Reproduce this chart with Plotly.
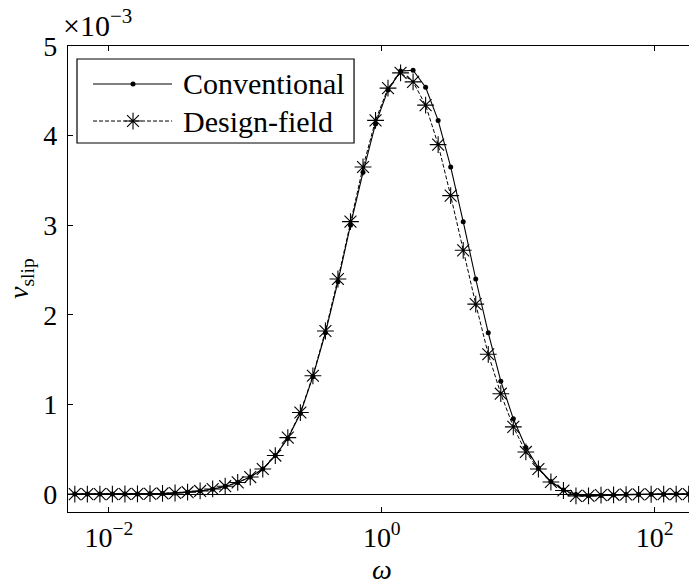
import plotly.graph_objects as go

# ---- data ----
omega = [0.005623, 0.006948, 0.008585, 0.01060, 0.01310, 0.01619, 0.02000, 0.02471,
         0.03053, 0.03772, 0.04661, 0.05759, 0.07115, 0.08790, 0.1086, 0.1342,
         0.1658, 0.2048, 0.2531, 0.3127, 0.3863, 0.4772, 0.5896, 0.7285, 0.9000,
         1.111, 1.373, 1.696, 2.096, 2.589, 3.199, 3.953, 4.884, 6.034, 7.455,
         9.210, 11.38, 14.06, 17.37, 21.46, 26.51, 32.76, 40.47, 50.00, 61.77,
         76.32, 94.29, 116.5, 143.9, 177.8]

conventional = [0.0, 0.0, 0.0, 0.0, 0.001, 0.002, 0.004, 0.007, 0.012, 0.020,
                0.033, 0.055, 0.085, 0.13, 0.19, 0.28, 0.43, 0.62, 0.90, 1.31,
                1.80, 2.37, 3.00, 3.59, 4.13, 4.51, 4.72, 4.73, 4.54, 4.17,
                3.65, 3.04, 2.40, 1.80, 1.26, 0.84, 0.52, 0.29, 0.14, 0.045,
                -0.005, -0.02, -0.015, -0.01, -0.006, -0.004, -0.002, -0.001, 0.0, 0.0]

design_field = [0.0, 0.0, 0.0, 0.0, 0.001, 0.002, 0.004, 0.007, 0.012, 0.021,
                0.035, 0.057, 0.088, 0.13, 0.19, 0.28, 0.43, 0.63, 0.91, 1.32,
                1.82, 2.40, 3.04, 3.65, 4.17, 4.53, 4.70, 4.60, 4.34, 3.90,
                3.33, 2.72, 2.12, 1.56, 1.12, 0.75, 0.47, 0.28, 0.135, 0.04,
                -0.02, -0.02, -0.012, -0.008, -0.005, -0.003, -0.002, -0.001, 0.0, 0.0]

series_names = ["Conventional", "Design-field"]
x_tickvals = [0.01, 1, 100]
x_ticktext = ["10<sup>\u22122</sup>", "10<sup>0</sup>", "10<sup>2</sup>"]
y_tickvals = [0, 1, 2, 3, 4, 5]
y_ticktext = ["0", "1", "2", "3", "4", "5"]

FONT = "Liberation Serif"
FS = 28
FS_LEG = 30

fig = go.Figure()

line_styles = [
    dict(color="black", width=1.1),
    dict(color="black", width=1.0, dash="4px,2px"),
]
marker_styles = [
    dict(symbol="circle", size=5, color="black"),
    dict(symbol="asterisk-open", size=14, color="black",
         line=dict(color="black", width=1.1)),
]

for yvals, name, ls, ms in zip([conventional, design_field], series_names,
                               line_styles, marker_styles):
    fig.add_trace(go.Scatter(x=omega, y=yvals, mode="lines+markers", name=name,
                             line=ls, marker=ms, showlegend=False))

# ---- custom legend (layout positions in paper fractions) ----
LEG_X0, LEG_X1, LEG_Y0, LEG_Y1 = 0.0145, 0.4606, 0.7918, 0.9721
LEG_LINE_X = [0.0403, 0.1675]
LEG_MARK_X = 0.1047
LEG_TEXT_X = 0.1820
LEG_ROWS = [0.9185, 0.8390]

fig.add_shape(type="rect", xref="paper", yref="paper",
              x0=LEG_X0, x1=LEG_X1, y0=LEG_Y0, y1=LEG_Y1,
              line=dict(color="black", width=1.2), fillcolor="white", layer="below")

for row, name, ls, ms in zip(LEG_ROWS, series_names, line_styles, marker_styles):
    fig.add_trace(go.Scatter(x=LEG_LINE_X, y=[row, row], mode="lines",
                             line=ls, xaxis="x2", yaxis="y2",
                             showlegend=False, hoverinfo="skip", cliponaxis=False))
    fig.add_trace(go.Scatter(x=[LEG_MARK_X], y=[row], mode="markers",
                             marker=ms, xaxis="x2", yaxis="y2",
                             showlegend=False, hoverinfo="skip", cliponaxis=False))
    fig.add_annotation(x=LEG_TEXT_X, y=row, xref="paper", yref="paper",
                       text=name, showarrow=False, xanchor="left", yanchor="middle",
                       font=dict(family=FONT, size=FS_LEG, color="black"))

fig.update_layout(
    width=689, height=586,
    margin=dict(l=68, r=0, t=46, b=74),
    paper_bgcolor="white", plot_bgcolor="white",
    font=dict(family=FONT, size=FS, color="black"),
    xaxis=dict(type="log", range=[-2.30, 2.252],
               tickvals=x_tickvals, ticktext=x_ticktext,
               ticks="inside", ticklen=5, tickwidth=1, tickcolor="black",
               showline=True, linecolor="black", linewidth=1.2, mirror="ticks",
               showgrid=False, zeroline=False,
               tickfont=dict(family=FONT, size=FS, color="black")),
    yaxis=dict(range=[-0.2, 5], tickvals=y_tickvals, ticktext=y_ticktext,
               ticks="inside", ticklen=5, tickwidth=1, tickcolor="black",
               showline=True, linecolor="black", linewidth=1.2, mirror=False,
               showgrid=False, zeroline=True, zerolinecolor="black", zerolinewidth=1.2,
               ticklabelstandoff=4,
               tickfont=dict(family=FONT, size=FS, color="black")),
    xaxis2=dict(domain=[0, 1], range=[0, 1], overlaying="x", anchor="y2", visible=False),
    yaxis2=dict(domain=[0, 1], range=[0, 1], overlaying="y", anchor="x2", visible=False),
)

# axis titles and exponent
fig.add_annotation(x=0, y=0, xref="x", yref="paper", yshift=-57,
                   text="<i>\u03c9</i>", showarrow=False, xanchor="center", yanchor="middle",
                   font=dict(family=FONT, size=FS, color="black"))
fig.add_annotation(x=0, y=0.5, xref="paper", yref="paper", xshift=-48,
                   text="<i>v</i><sub>slip</sub>", showarrow=False, textangle=-90,
                   xanchor="center", yanchor="middle",
                   font=dict(family=FONT, size=FS, color="black"))
fig.add_annotation(x=0, y=1, xref="paper", yref="paper", xshift=-7, yshift=2,
                   text="\u00d710<sup>\u22123</sup>", showarrow=False,
                   xanchor="left", yanchor="bottom",
                   font=dict(family=FONT, size=30, color="black"))

fig.write_html("out.html")
